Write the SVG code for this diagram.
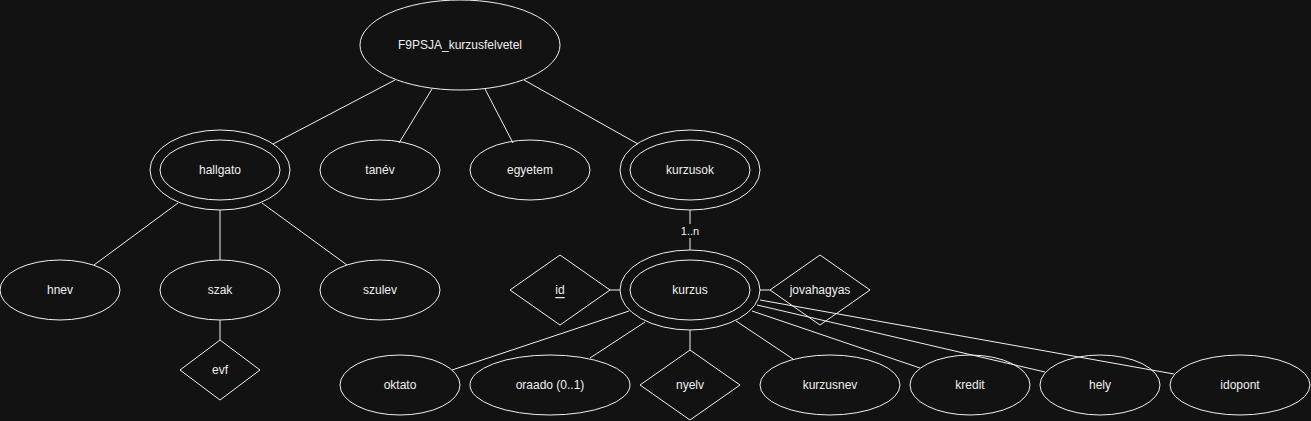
<svg xmlns="http://www.w3.org/2000/svg" width="1311" height="421" viewBox="0 0 1311 421">
<style>
.s{fill:none;stroke:#f0f0f0;stroke-width:1}
.t{font-family:"Liberation Sans",Arial,sans-serif;font-size:12px;fill:#f0f0f0;text-anchor:middle;dominant-baseline:central}
.e{fill:none;stroke:#f0f0f0;stroke-width:1}
</style>
<rect x="0" y="0" width="1311" height="421" fill="#121212"/>
<g id="connectors">
<line class="e" x1="395" y1="80" x2="273" y2="144"/>
<line class="e" x1="432" y1="89" x2="399" y2="143"/>
<line class="e" x1="485" y1="89" x2="513" y2="143"/>
<line class="e" x1="524" y1="80" x2="638" y2="144"/>
<line class="e" x1="178" y1="203" x2="94" y2="265"/>
<line class="e" x1="220" y1="210" x2="220" y2="260"/>
<line class="e" x1="262" y1="203" x2="347" y2="265"/>
<line class="e" x1="220" y1="320" x2="220" y2="340"/>
<line class="e" x1="690" y1="210" x2="690" y2="250"/>
<rect x="680" y="224" width="20" height="14" fill="#121212"/>
<text class="t" x="690" y="231" style="font-size:11px">1..n</text>
<line class="e" x1="610" y1="290" x2="620" y2="290"/>
<line class="e" x1="760" y1="290" x2="770" y2="290"/>
<line class="e" x1="629" y1="311" x2="452" y2="370"/>
<line class="e" x1="645" y1="322" x2="590" y2="358"/>
<line class="e" x1="690" y1="330" x2="690" y2="350"/>
<line class="e" x1="736" y1="321" x2="793" y2="359"/>
<line class="e" x1="752" y1="311" x2="920" y2="368"/>
<line class="e" x1="757" y1="305" x2="1045" y2="372"/>
<line class="e" x1="760" y1="300" x2="1174" y2="374"/>
</g>
<g id="root"><ellipse class="s" cx="460" cy="45" rx="100" ry="45"/><text class="t" x="460" y="45">F9PSJA_kurzusfelvetel</text></g>
<g id="hallgato"><ellipse class="s" cx="220" cy="170" rx="70" ry="40"/><ellipse class="s" cx="220" cy="170" rx="60" ry="30"/><text class="t" x="220" y="170">hallgato</text></g>
<g id="tanev"><ellipse class="s" cx="380" cy="170" rx="60" ry="30"/><text class="t" x="380" y="170">tanév</text></g>
<g id="egyetem"><ellipse class="s" cx="530" cy="170" rx="60" ry="30"/><text class="t" x="530" y="170">egyetem</text></g>
<g id="kurzusok"><ellipse class="s" cx="690" cy="170" rx="70" ry="40"/><ellipse class="s" cx="690" cy="170" rx="60" ry="30"/><text class="t" x="690" y="170">kurzusok</text></g>
<g id="hnev"><ellipse class="s" cx="60" cy="290" rx="60" ry="30"/><text class="t" x="60" y="290">hnev</text></g>
<g id="szak"><ellipse class="s" cx="220" cy="290" rx="60" ry="30"/><text class="t" x="220" y="290">szak</text></g>
<g id="szulev"><ellipse class="s" cx="380" cy="290" rx="60" ry="30"/><text class="t" x="380" y="290">szulev</text></g>
<g id="evf"><polygon class="s" points="220,340 260,370 220,400 180,370"/><text class="t" x="220" y="370">evf</text></g>
<g id="id"><polygon class="s" points="560,255 610,290 560,325 510,290"/><text class="t" x="560" y="290" text-decoration="underline">id</text></g>
<g id="kurzus"><ellipse class="s" cx="690" cy="290" rx="70" ry="40"/><ellipse class="s" cx="690" cy="290" rx="60" ry="30"/><text class="t" x="690" y="290">kurzus</text></g>
<g id="jovahagyas"><polygon class="s" points="820,255 870,290 820,325 770,290"/><text class="t" x="820" y="290">jovahagyas</text></g>
<g id="oktato"><ellipse class="s" cx="400" cy="385" rx="60" ry="30"/><text class="t" x="400" y="385">oktato</text></g>
<g id="oraado"><ellipse class="s" cx="550" cy="385" rx="80" ry="30"/><text class="t" x="550" y="385">oraado (0..1)</text></g>
<g id="nyelv"><polygon class="s" points="690,350 740,385 690,420 640,385"/><text class="t" x="690" y="385">nyelv</text></g>
<g id="kurzusnev"><ellipse class="s" cx="830" cy="385" rx="70" ry="30"/><text class="t" x="830" y="385">kurzusnev</text></g>
<g id="kredit"><ellipse class="s" cx="970" cy="385" rx="60" ry="30"/><text class="t" x="970" y="385">kredit</text></g>
<g id="hely"><ellipse class="s" cx="1100" cy="385" rx="60" ry="30"/><text class="t" x="1100" y="385">hely</text></g>
<g id="idopont"><ellipse class="s" cx="1240" cy="385" rx="70" ry="30"/><text class="t" x="1240" y="385">idopont</text></g>
</svg>
